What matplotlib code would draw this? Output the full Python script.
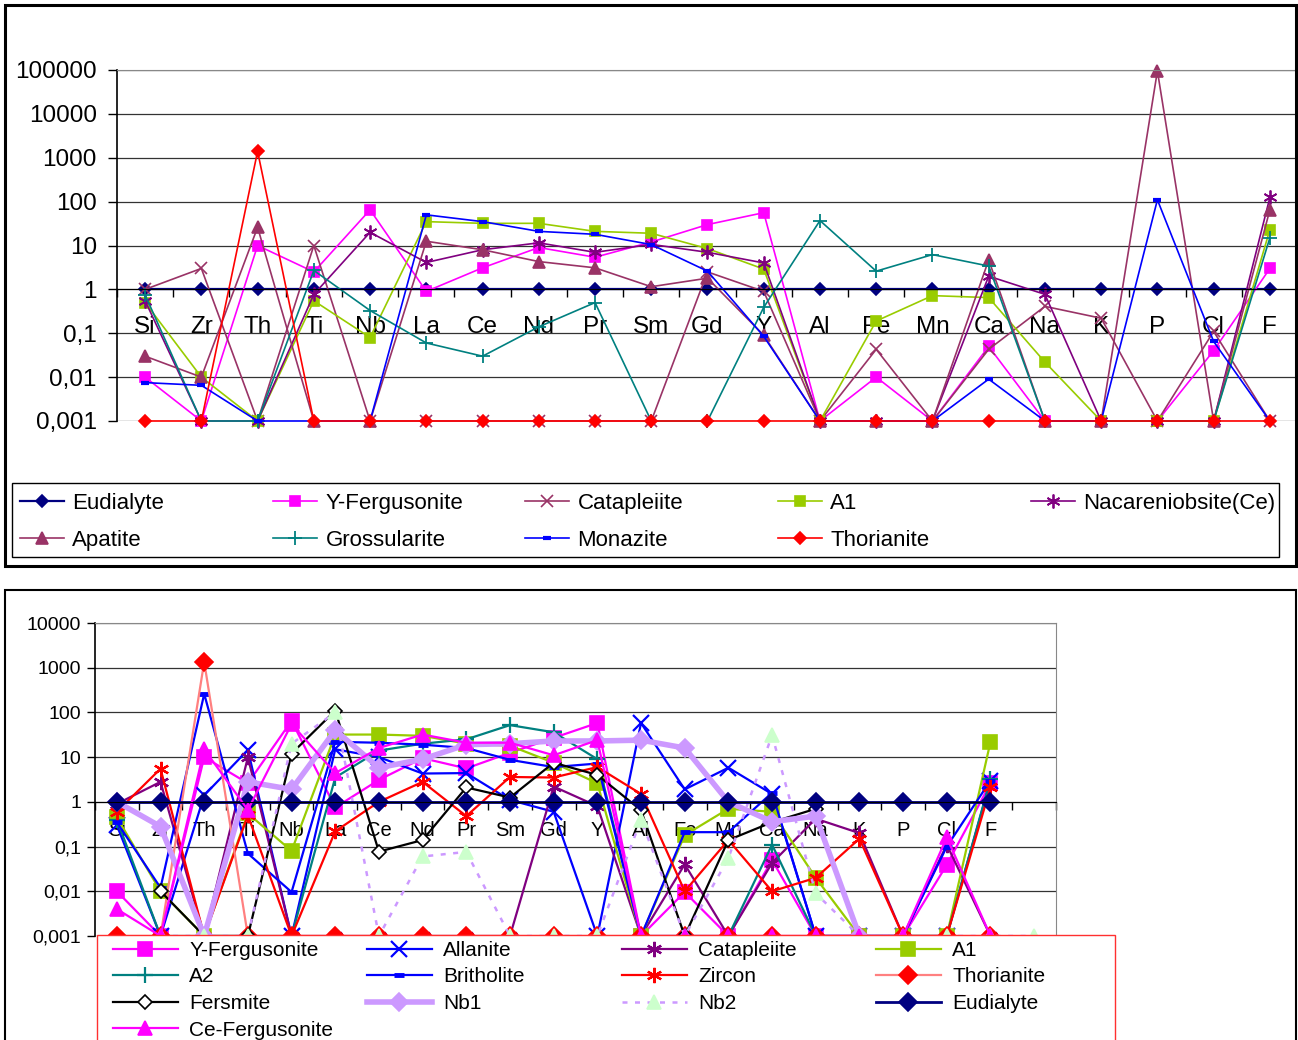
import numpy as np
import matplotlib
matplotlib.use("Agg")
import matplotlib.pyplot as plt
from matplotlib.patches import Rectangle
from matplotlib.ticker import FixedLocator, FixedFormatter, NullFormatter

plt.rcParams['font.family'] = ['Liberation Sans', 'DejaVu Sans']

nan = np.nan

# categories (elements)
cats = ['Si', 'Zr', 'Th', 'Ti', 'Nb', 'La', 'Ce', 'Nd', 'Pr', 'Sm', 'Gd', 'Y',
        'Al', 'Fe', 'Mn', 'Ca', 'Na', 'K', 'P', 'Cl', 'F']
bot_cats = cats + ['']

# ---- top chart data
top_eudialyte = [1, 1, 1, 1, 1, 1, 1, 1, 1, 1, 1, 1, 1, 1, 1, 1, 1, 1, 1, 1, 1]
top_yferg = [0.01, 0.001, 10, 2.5, 65, 0.9, 3.1, 9, 5.4, 12, 30, 56, 0.001, 0.01,
             0.001, 0.05, 0.001, 0.001, 0.001, 0.04, 3]
top_catapleiite = [1, 3, 0.001, 10, 0.001, 0.001, 0.001, 0.001, 0.001, 0.001, 2.5, 0.9,
                   0.001, 0.043, 0.001, 0.043, 0.41, 0.22, 0.001, 0.11, 0.001]
top_a1 = [0.5, 0.01, 0.001, 0.55, 0.08, 35, 32, 32, 21, 19, 8.5, 2.9, 0.001, 0.19,
          0.72, 0.65, 0.022, 0.001, 0.001, 0.001, 23]
top_nacareniobsite = [0.55, 0.001, 0.001, 0.77, 20, 4.1, 8, 11.5, 7, 10.6, 7, 4,
                      0.001, 0.001, 0.001, 2, 0.77, 0.001, 0.001, 0.001, 125]
top_apatite = [0.03, 0.01, 26, 0.001, 0.001, 12.5, 8, 4.3, 3.1, 1.15, 1.8, 0.09, 0.001,
               0.001, 0.001, 4.7, 0.001, 0.001, 95000, 0.001, 65]
top_grossularite = [0.75, 0.001, 0.001, 2.7, 0.33, 0.06, 0.03, 0.14, 0.5, 0.001, 0.001,
                    0.39, 37, 2.6, 6.2, 3.4, 0.001, 0.001, 0.001, 0.001, 15]
top_monazite = [0.0075, 0.0065, 0.001, 0.001, 0.001, 50, 35, 21, 18, 10.5, 2.6, 0.085,
                0.001, 0.001, 0.001, 0.009, 0.001, 0.001, 110, 0.065, 0.001]
top_thorianite = [0.001, 0.001, 1400, 0.001, 0.001, 0.001, 0.001, 0.001, 0.001, 0.001,
                  0.001, 0.001, 0.001, 0.001, 0.001, 0.001, 0.001, 0.001, 0.001, 0.001, 0.001]

# ---- bottom chart data
b_yferg = [0.01, 0.001, 10, 2.6, 65, 0.75, 3.1, 9.5, 5.6, 12.5, 27, 58, 0.001, 0.0096,
           0.001, 0.05, 0.001, 0.001, 0.001, 0.039, 2.6, nan]
b_allanite = [0.3, 0.001, 1.4, 14.5, 0.001, 15, 10, 4.3, 4.4, 1.1, 0.6, 0.001, 58, 1.9,
              5.8, 1.5, 0.001, 0.001, 0.001, 0.001, 3, nan]
b_catapleiite = [0.9, 2.8, 0.001, 10, 0.001, 0.001, 0.001, 0.001, 0.001, 0.001, 2.2, 0.8,
                 0.001, 0.04, 0.001, 0.043, 0.42, 0.2, 0.001, 0.11, 0.001, nan]
b_a1 = [0.45, 0.01, 0.001, 0.55, 0.08, 32, 32, 30, 20, 18, 7.5, 2.6, 0.001, 0.18, 0.7,
        0.6, 0.02, 0.001, 0.001, 0.001, 22, nan]
b_a2 = [0.4, 0.001, 0.001, 0.001, 0.001, 3.5, 14, 20, 25, 52, 36, 9, 0.001, 0.001,
        0.001, 0.11, 0.001, 0.001, 0.001, 0.001, 3.2, nan]
b_britholite = [0.35, 0.012, 260, 0.07, 0.0096, 22, 21, 19, 16, 8.7, 6, 7.2, 0.001,
                0.21, 0.21, 1.6, 0.001, 0.001, 0.001, 0.1, 3, nan]
b_zircon = [0.6, 5.5, 0.001, 0.5, 0.001, 0.22, 1, 2.8, 0.48, 3.6, 3.5, 6, 1.5, 0.01,
            0.14, 0.01, 0.02, 0.15, 0.001, 0.001, 2.1, nan]
b_thorianite = [0.001, 0.001, 1350, 0.001, 0.001, 0.001, 0.001, 0.001, 0.001, 0.001,
                0.001, 0.001, 0.001, 0.001, 0.001, 0.001, 0.001, 0.001, 0.001, 0.001, 0.001, nan]
b_fersmite = [nan, 0.01, 0.001, 0.001, 12, 110, 0.077, 0.14, 2.1, 1.25, 7.5, 4, 0.65,
              0.001, 0.14, 0.35, 0.7, nan, nan, nan, nan, nan]
b_nb1 = [1, 0.28, 0.001, 2.8, 1.9, 40, 5.8, 9, 19, 20, 23, 23, 24, 16, 1, 0.36, 0.48,
         0.001, nan, nan, nan, nan]
b_nb2 = [nan, 0.001, 0.001, 0.001, 20, 100, 0.001, 0.06, 0.076, 0.001, 0.001, 0.001,
         0.4, 0.001, 0.055, 31, 0.009, 0.001, 0.001, 0.001, 0.001, 0.001]
b_eudialyte = [1, 1, 1, 1, 1, 1, 1, 1, 1, 1, 1, 1, 1, 1, 1, 1, 1, 1, 1, 1, 1, nan]
b_cefer = [0.004, 0.001, 15, 0.66, 55, 4.4, 16, 32, 21, 21, 11, 24, 0.001, 0.001, 0.001,
           0.001, 0.001, 0.001, 0.001, 0.16, 0.001, nan]

W, H = 1298, 1040
fig = plt.figure(figsize=(W / 100, H / 100), dpi=100)


def fig_rect(x0, y0, x1, y1, **kw):
    # rectangle given in picture pixels (top-left origin)
    r = Rectangle((x0 / W, 1 - y1 / H), (x1 - x0) / W, (y1 - y0) / H,
                  transform=fig.transFigure, **kw)
    fig.add_artist(r)
    return r


# panel frames
fig_rect(5, 5, 1296, 566, fill=False, ec='black', lw=2.2)
fig_rect(5, 590, 1296, 1050, fill=False, ec='black', lw=1.5)

asterisk = (6, 2, 0)


def setup_axes(ax, ncat, ymax, labels, fs_y, fs_x, pad_x, ypad, ylen):
    ax.set_yscale('log')
    ax.set_ylim(0.001, ymax)
    ax.set_xlim(-0.5, ncat - 0.5)
    decades = [10.0 ** k for k in range(-3, int(round(np.log10(ymax))) + 1)]
    txt = ['0,001', '0,01', '0,1', '1', '10', '100', '1000', '10000', '100000'][:len(decades)]
    ax.yaxis.set_major_locator(FixedLocator(decades))
    ax.yaxis.set_major_formatter(FixedFormatter(txt))
    ax.yaxis.set_minor_locator(FixedLocator([]))
    ax.yaxis.set_minor_formatter(NullFormatter())
    ax.tick_params(axis='y', labelsize=fs_y, length=ylen, width=1, pad=ypad)
    ax.grid(axis='y', color='#333333', lw=0.9)
    ax.set_axisbelow(True)
    ax.spines['bottom'].set_position(('data', 1))
    ax.spines['top'].set_color('#888888')
    ax.spines['right'].set_color('#888888')
    ax.spines['left'].set_linewidth(1.2)
    ax.set_xticks(range(ncat))
    ax.set_xticklabels(labels)
    ax.set_xticks(np.arange(-0.5, ncat, 1), minor=True)
    ax.tick_params(axis='x', which='major', length=0, labelsize=fs_x, pad=pad_x)
    ax.tick_params(axis='x', which='minor', length=6, width=1, direction='out')


def series(ax, y, color, marker, ms, lw=1.2, mfc=None, mec=None, mew=1.2, ls='-', label=None, z=2):
    x = np.arange(len(y))
    line, = ax.plot(x, y, color=color, lw=lw, ls=ls, marker=marker, ms=ms,
                    mfc=mfc if mfc else color, mec=mec if mec else color, mew=mew,
                    label=label, clip_on=False, zorder=z)
    return line


def legend_columns(handles, columns, xs, ytop, fs, hl, tp, ls):
    for names, x in zip(columns, xs):
        fig.legend([handles[k] for k in names], names, loc='upper left',
                   bbox_to_anchor=(x / W, 1 - ytop / H), fontsize=fs, frameon=False,
                   handlelength=hl, handletextpad=tp, labelspacing=ls,
                   borderpad=0, borderaxespad=0)


# ================= top chart
ax1 = fig.add_axes([117 / W, 1 - 421 / H, 1181 / W, 351 / H])
setup_axes(ax1, len(cats), 1e5, cats, 17.5, 17.5, 19, 8, 6.5)

h = {}
h['Eudialyte'] = series(ax1, top_eudialyte, '#000080', 'D', 6, lw=1.6)
h['Y-Fergusonite'] = series(ax1, top_yferg, '#FF00FF', 's', 7.5)
h['Catapleiite'] = series(ax1, top_catapleiite, '#993366', 'x', 9, mew=1.2)
h['A1'] = series(ax1, top_a1, '#99CC00', 's', 7.5)
h['Nacareniobsite(Ce)'] = series(ax1, top_nacareniobsite, '#800080', asterisk, 10, mew=1.3)
h['Apatite'] = series(ax1, top_apatite, '#993366', '^', 8)
h['Grossularite'] = series(ax1, top_grossularite, '#008080', '+', 10, mew=1.3)
h['Monazite'] = series(ax1, top_monazite, '#0000FF', '_', 6, mew=3)
h['Thorianite'] = series(ax1, top_thorianite, '#FF0000', 'D', 6)

fig_rect(12, 483, 1279, 557, fc='white', ec='black', lw=1.0)
legend_columns(h, [['Eudialyte', 'Apatite'], ['Y-Fergusonite', 'Grossularite'],
                   ['Catapleiite', 'Monazite'], ['A1', 'Thorianite'], ['Nacareniobsite(Ce)']],
               [20, 273, 525, 778, 1031], 493, 16, 2.0, 0.36, 0.72)

# ================= bottom chart
ax2 = fig.add_axes([95 / W, 1 - 936 / H, 961 / W, 313 / H])
setup_axes(ax2, len(bot_cats), 1e4, bot_cats, 14, 14.5, 14, 4, 6)

g = {}
g['Y-Fergusonite'] = series(ax2, b_yferg, '#FF00FF', 's', 10, lw=1.6)
g['Allanite'] = series(ax2, b_allanite, '#0000FF', 'x', 11, lw=1.6, mew=1.6)
g['Catapleiite'] = series(ax2, b_catapleiite, '#800080', asterisk, 11, lw=1.6, mew=1.6)
g['A1'] = series(ax2, b_a1, '#99CC00', 's', 10, lw=1.6)
g['A2'] = series(ax2, b_a2, '#008080', '+', 11, lw=1.6, mew=1.6)
g['Britholite'] = series(ax2, b_britholite, '#0000FF', '_', 7, lw=1.6, mew=3.5)
g['Zircon'] = series(ax2, b_zircon, '#FF0000', asterisk, 11, lw=1.6, mew=1.6)
g['Thorianite'] = series(ax2, b_thorianite, '#FF8080', 'D', 9, lw=1.6, mfc='#FF0000', mec='#FF0000')
g['Fersmite'] = series(ax2, b_fersmite, '#000000', 'D', 7, lw=1.6, mfc='white', mec='black')
g['Nb1'] = series(ax2, b_nb1, '#CC99FF', 'D', 9, lw=4)
g['Nb2'] = series(ax2, b_nb2, '#CC99FF', '^', 10, lw=1.8, ls=(0, (2, 3)), mfc='#CCFFCC', mec='#CCFFCC')
g['Eudialyte'] = series(ax2, b_eudialyte, '#000080', 'D', 9, lw=2)
g['Ce-Fergusonite'] = series(ax2, b_cefer, '#FF00FF', '^', 10, lw=1.6)

fig_rect(97, 935, 1115, 1050, fc='white', ec='#FF3030', lw=1.0)
legend_columns(g, [['Y-Fergusonite', 'A2', 'Fersmite', 'Ce-Fergusonite'],
                   ['Allanite', 'Britholite', 'Nb1'],
                   ['Catapleiite', 'Zircon', 'Nb2'],
                   ['A1', 'Thorianite', 'Eudialyte']],
               [113, 367, 622, 876], 941, 15, 3.1, 0.55, 0.36)

fig.savefig('out.png', dpi=100)
